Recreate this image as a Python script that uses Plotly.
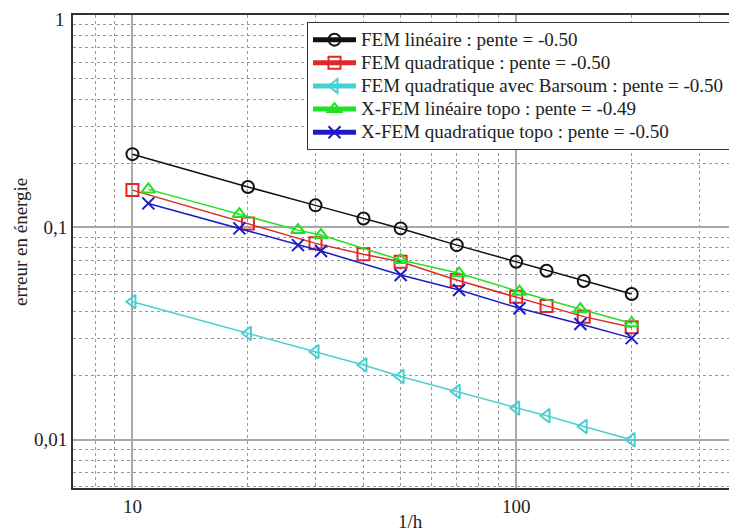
import plotly.graph_objects as go
import numpy as np

# Data
x_fem = [10, 20, 30, 40, 50, 70, 100, 120, 150, 200]
x_xfem = [11, 19, 27, 31, 50, 71, 102, 147, 200]

fem_lin = [0.2212, 0.155, 0.127, 0.1102, 0.0989, 0.0825, 0.0689, 0.0625, 0.0559, 0.0486]
fem_quad = [0.1498, 0.1044, 0.0841, 0.0747, 0.0689, 0.0565, 0.0472, 0.0427, 0.038, 0.0339]
fem_barsoum = [0.0447, 0.0317, 0.026, 0.0225, 0.01985, 0.01687, 0.0141, 0.01297, 0.01155, 0.0100]
xfem_lin = [0.151, 0.1155, 0.0971, 0.092, 0.0702, 0.0608, 0.0498, 0.0412, 0.0354]
xfem_quad = [0.1297, 0.0989, 0.0825, 0.0774, 0.0597, 0.0507, 0.0416, 0.0351, 0.0301]

names = [
    "FEM linéaire : pente = -0.50",
    "FEM quadratique : pente = -0.50",
    "FEM quadratique avec Barsoum : pente = -0.50",
    "X-FEM linéaire topo : pente = -0.49",
    "X-FEM quadratique topo : pente = -0.50",
]

x_ticks = [10, 100]
x_ticktext = ["10", "100"]
y_ticks = [0.01, 0.1]
y_ticktext = ["0,01", "0,1"]
y_top_label = "1"   # label of the decade 1 at the top edge of the plot

x_minor = [7, 8, 9, 20, 30, 40, 50, 60, 70, 80, 90, 200, 300]
y_minor = [0.006, 0.007, 0.008, 0.009,
           0.02, 0.03, 0.04, 0.05, 0.06, 0.07, 0.08, 0.09,
           0.2, 0.3, 0.4, 0.5, 0.6, 0.7, 0.8, 0.9]

x_title = "1/h"
y_title = "erreur en énergie"

series = [
    (x_fem, fem_lin, "#111111", "circle-open"),
    (x_fem, fem_quad, "#e02828", "square-open"),
    (x_fem, fem_barsoum, "#48d0d0", "triangle-left-open"),
    (x_xfem, xfem_lin, "#22e022", "triangle-up-open"),
    (x_xfem, xfem_quad, "#1c1cc4", "x-thin-open"),
]

fnt = '"Liberation Serif", "Times New Roman", serif'
FS = 19

fig = go.Figure()
for (xs, ys, col, sym), nm in zip(series, names):
    fig.add_trace(go.Scatter(
        x=xs, y=ys,
        name='<span style="font-size:%dpx">%s</span>' % (FS, nm),
        mode="lines+markers",
        line=dict(color=col, width=1.5),
        marker=dict(symbol=sym, size=12, color=col,
                    line=dict(color=col, width=2)),
    ))

fig.update_layout(
    width=729, height=524,
    margin=dict(l=65, r=0, t=7, b=44, autoexpand=False),
    paper_bgcolor="white", plot_bgcolor="white",
    font=dict(family=fnt, size=FS, color="#222"),
    showlegend=True,
    legend=dict(
        x=0.3524, y=0.985, xanchor="left", yanchor="top",
        bgcolor="white", bordercolor="#333", borderwidth=1,
        font=dict(family=fnt, size=15.5, color="#222"),
        tracegroupgap=0, itemsizing="constant", itemwidth=43,
    ),
    xaxis=dict(
        type="log", range=[np.log10(7.0), 2.5755],
        tickvals=x_ticks, ticktext=x_ticktext,
        showgrid=True, gridcolor="#a8a8a8", gridwidth=2,
        minor=dict(tickvals=x_minor, showgrid=True, gridcolor="#9a9a9a",
                   griddash="dot", gridwidth=1),
        showline=True, linecolor="#333", linewidth=2, mirror=True,
        ticks="", zeroline=False, automargin=False,
        tickfont=dict(family=fnt, size=FS),
    ),
    yaxis=dict(
        type="log", range=[-2.227, 0.0],
        tickvals=y_ticks, ticktext=y_ticktext,
        showgrid=True, gridcolor="#a8a8a8", gridwidth=2,
        minor=dict(tickvals=y_minor, showgrid=True, gridcolor="#9a9a9a",
                   griddash="dot", gridwidth=1),
        showline=True, linecolor="#333", linewidth=2, mirror=False,
        ticks="", zeroline=False, automargin=False,
        tickfont=dict(family=fnt, size=FS),
    ),
    annotations=[
        dict(text=y_top_label, xref="paper", yref="paper", x=0, y=1,
             xshift=-6, yshift=-4, xanchor="right", yanchor="middle",
             showarrow=False, font=dict(family=fnt, size=FS)),
        dict(text=x_title, xref="paper", yref="paper", x=0.509, y=0,
             yshift=-33, xanchor="center", yanchor="middle",
             showarrow=False, font=dict(family=fnt, size=FS)),
        dict(text=y_title, xref="paper", yref="paper", x=0, y=0.52,
             xshift=-53, xanchor="center", yanchor="middle", textangle=-90,
             showarrow=False, font=dict(family=fnt, size=FS)),
    ],
)

fig.write_html("out.html")
